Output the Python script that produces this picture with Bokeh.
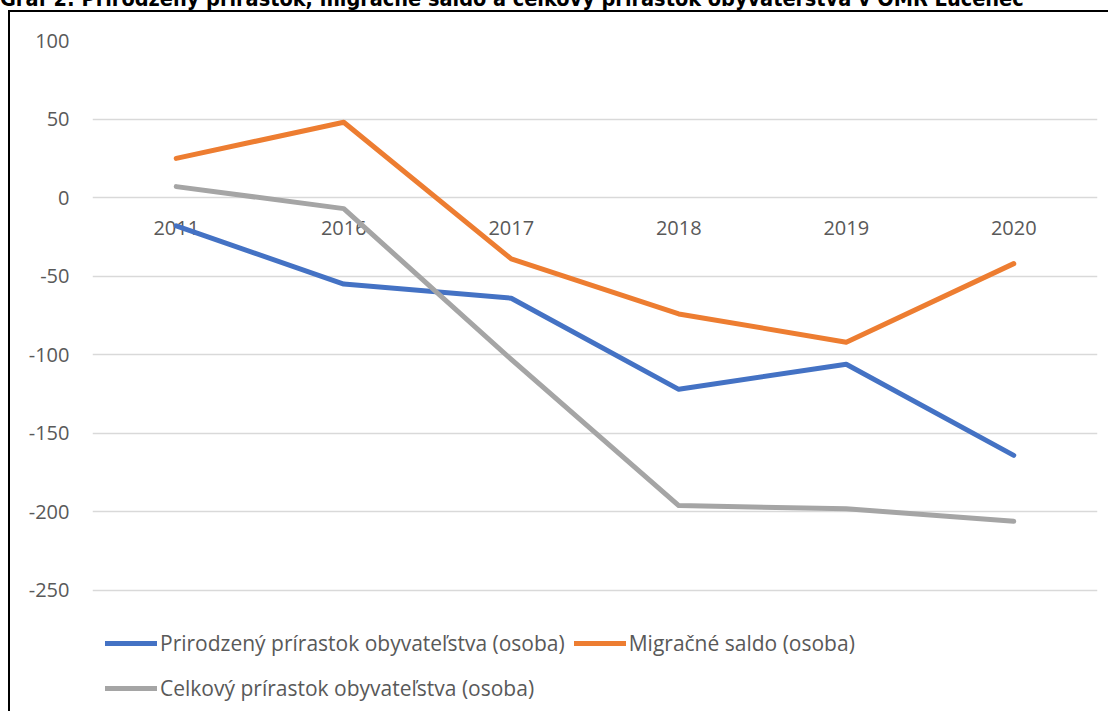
from bokeh.plotting import figure
from bokeh.models import FactorRange, Range1d, FixedTicker, Legend, LegendItem, Div
from bokeh.layouts import column
from bokeh.embed import file_html
from bokeh.resources import INLINE

title_text = "Graf 2: Prirodzený prírastok, migračné saldo a celkový prírastok obyvateľstva v OMR Lučenec"

years = ["2011", "2016", "2017", "2018", "2019", "2020"]
prirodzeny = [-18, -55, -64, -122, -106, -164]
migracne = [25, 48, -39, -74, -92, -42]
celkovy = [7, -7, -103, -196, -198, -206]
y_ticks = [-250, -200, -150, -100, -50, 0, 50, 100]

series_names = [
    "Prirodzený prírastok obyvateľstva (osoba)",
    "Migračné saldo (osoba)",
    "Celkový prírastok obyvateľstva (osoba)",
]
series_values = [prirodzeny, migracne, celkovy]
series_colors = ["#4472C4", "#ED7D31", "#A5A5A5"]

FONT = "Open Sans"
LABEL_COLOR = "#595959"

# --- title strip (cut off at the top of the page, as in the reference) ---
t = Div(text=('<div style="position:relative; top:-11.7px; left:0px; white-space:nowrap; '
              "font-family:'DejaVu Sans Condensed'; font-weight:bold; font-size:21.5px; "
              'line-height:21.5px; color:black;">' + title_text + '</div>'),
        width=1111, height=10, margin=(0, 0, 0, 0))

# --- main chart ---
p = figure(x_range=FactorRange(factors=years), y_range=Range1d(-328.3, 100),
           width=1100, height=701, output_backend="svg", toolbar_location=None,
           min_border_left=82, min_border_right=13, min_border_top=28, min_border_bottom=0,
           outline_line_color=None, background_fill_color="white", border_fill_color="white",
           margin=(0, 0, 0, 8),
           styles={"border-left": "2px solid black", "border-top": "2px solid black"})

items = []
for name, vals, col in zip(series_names, series_values, series_colors):
    r = p.line(x=years, y=vals, line_width=5, line_color=col, line_cap="round", line_join="round")
    items.append(LegendItem(label=name, renderers=[r]))

p.yaxis.ticker = FixedTicker(ticks=y_ticks)
p.yaxis.major_label_overrides = {v: str(v) for v in y_ticks}
p.ygrid.ticker = FixedTicker(ticks=y_ticks)
p.ygrid.grid_line_color = "#D9D9D9"
p.ygrid.grid_line_width = 1.3
p.xgrid.visible = False

p.yaxis.axis_line_color = None
p.yaxis.major_tick_line_color = None
p.yaxis.minor_tick_line_color = None
p.yaxis.major_tick_in = 0
p.yaxis.major_tick_out = 0
p.yaxis.major_label_standoff = 23
p.yaxis.major_label_text_font = FONT
p.yaxis.major_label_text_font_size = "20px"
p.yaxis.major_label_text_color = LABEL_COLOR

p.xaxis.fixed_location = 0
p.xaxis.axis_line_color = None
p.xaxis.major_tick_line_color = None
p.xaxis.major_tick_in = 0
p.xaxis.major_tick_out = 0
p.xaxis.major_label_standoff = 23
p.xaxis.major_label_text_font = FONT
p.xaxis.major_label_text_font_size = "20px"
p.xaxis.major_label_text_color = LABEL_COLOR
p.xaxis.level = "underlay"

legend = Legend(items=items, ncols=2, orientation="horizontal", location=(13, 7),
                label_text_font=FONT, label_text_font_size="21px", label_text_color=LABEL_COLOR,
                label_standoff=3, glyph_width=52, glyph_height=36, label_height=36,
                spacing=9, padding=0, margin=0, border_line_color=None,
                background_fill_alpha=0)
p.add_layout(legend)

layout = column(t, p)
open("out.html", "w").write(file_html(layout, INLINE))
